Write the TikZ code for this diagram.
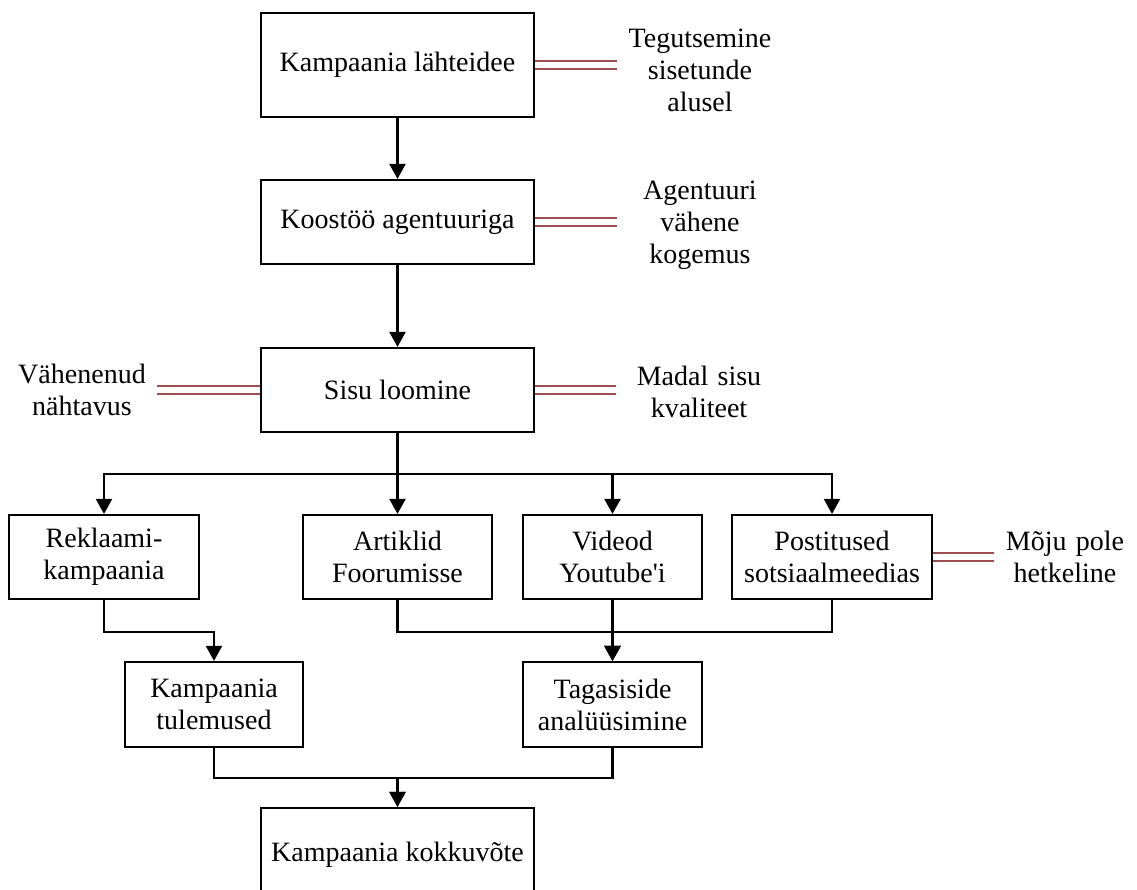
\documentclass[tikz,border=0pt]{standalone}
\usepackage{fontspec}
\setmainfont{Liberation Serif}
\usetikzlibrary{arrows.meta}
\definecolor{riskline}{RGB}{158,78,78}
\begin{document}
\begin{tikzpicture}[x=1pt,y=-1pt,
  box/.style={draw=black, line width=2.2pt, minimum height=84pt, align=center,
    inner sep=0pt, font=\fontsize{28}{32}\selectfont},
  note/.style={align=center, inner sep=0pt, font=\fontsize{28}{32}\selectfont},
  flow/.style={line width=2.2pt, -{Triangle[width=16pt,length=15pt]}},
  risk/.style={draw=riskline, line width=2pt, double=white, double distance=6pt}]
\clip (0,0) rectangle (1137,890);

% main chain
\node[box, minimum width=273pt, minimum height=104pt] (idee) at (397.5,65) {Kampaania lähteidee};
\node[box, minimum width=273pt] (agent) at (397.5,222) {Koostöö agentuuriga};
\node[box, minimum width=273pt] (sisu) at (397.5,390) {Sisu loomine};

% channels
\node[box, minimum width=190pt] (rekl) at (104,557) {Reklaami-\\kampaania};
\node[box, minimum width=189pt] (art) at (397.5,557) {Artiklid\\Foorumisse};
\node[box, minimum width=179pt] (vid) at (612.5,557) {Videod\\Youtube\textquotesingle i};
\node[box, minimum width=200pt] (post) at (832,557) {Postitused\\sotsiaalmeedias};

% results
\node[box, minimum width=178pt, minimum height=85pt] (tul) at (214,704.5) {Kampaania\\tulemused};
\node[box, minimum width=179pt, minimum height=85pt] (tag) at (612.5,704.5) {Tagasiside\\analüüsimine};
\node[box, minimum width=273pt, minimum height=94pt] (kokk) at (397.5,855) {Kampaania kokkuvõte};

% risks
\node[note, text width=166pt] (r1) at (700,70) {Tegutsemine\\sisetunde\\alusel};
\node[note, text width=166pt] (r2) at (700,225) {Agentuuri\\vähene\\kogemus};
\node[note, text width=166pt] (r3) at (699,392) {Madal sisu\\kvaliteet};
\node[note, text width=150pt] (r4) at (82,390) {Vähenenud\\nähtavus};
\node[note, text width=142pt] (r5) at (1065,557) {Mõju pole\\hetkeline};

\draw[risk] (idee.east) -- (idee.east -| r1.west);
\draw[risk] (agent.east) -- (agent.east -| r2.west);
\draw[risk] (sisu.east) -- (sisu.east -| r3.west);
\draw[risk] (sisu.west) -- (sisu.west -| r4.east);
\draw[risk] (post.east) -- (post.east -| r5.west);

% flow
\draw[flow] (idee) -- (agent);
\draw[flow] (agent) -- (sisu);
\coordinate (split) at (397.5,474);
\draw[line width=2.2pt] (sisu.south) -- (split);
\draw[flow] (split) -| (rekl.north);
\draw[flow] (split) -- (art.north);
\draw[flow] (split) -| (vid.north);
\draw[flow] (split) -| (post.north);

\draw[flow] (rekl.south) -- ++(0,32) -| (tul.north);
\draw[flow] (art.south) -- ++(0,32) -| (tag.north);
\draw[flow] (vid.south) -- (tag.north);
\draw[flow] (post.south) -- ++(0,32) -| (tag.north);

\draw[flow] (tul.south) -- ++(0,30) -| (kokk.north);
\draw[flow] (tag.south) -- ++(0,30) -| (kokk.north);
\end{tikzpicture}
\end{document}
